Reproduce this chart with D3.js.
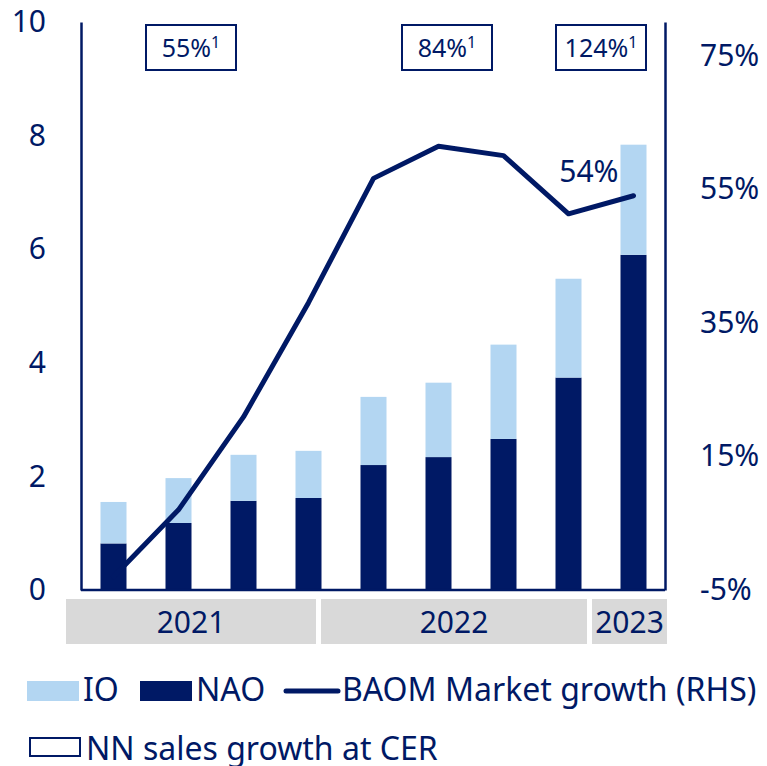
<!DOCTYPE html>
<html>
<head>
<meta charset="utf-8">
<script src="https://cdn.jsdelivr.net/npm/d3@7"></script>
<style>
  body { margin: 0; background: #fff; }
  text { font-family: "Noto Sans", sans-serif; fill: #001965; }
</style>
</head>
<body>
<div id="chart"></div>
<script>
// Data
const quarters = ["Q1 21", "Q2 21", "Q3 21", "Q4 21", "Q1 22", "Q2 22", "Q3 22", "Q4 22", "Q1 23"];
const naoValues = [0.82, 1.18, 1.57, 1.62, 2.20, 2.34, 2.66, 3.74, 5.90];
const ioValues = [0.73, 0.79, 0.81, 0.83, 1.20, 1.31, 1.66, 1.74, 1.94];
const marketGrowth = [-3.0, 7.0, 20.9, 38.0, 56.6, 61.4, 60.0, 51.3, 54.0];
const years = ["2021", "2022", "2023"];
const salesGrowth = ["55%", "84%", "124%"];
const leftTicks = [0, 2, 4, 6, 8, 10];
const rightTicks = [-5, 15, 35, 55, 75];

// Colors
const navy = "#001965";
const lightBlue = "#b3d6f2";
const grey = "#d9d9d9";

const width = 767, height = 766;
const plotLeft = 81, plotRight = 665, plotTop = 22, plotBottom = 590;

const svg = d3.select("#chart")
  .append("svg")
  .attr("width", width)
  .attr("height", height);

const x = d3.scaleBand()
  .domain(quarters)
  .range([plotLeft, plotRight + 1])
  .paddingInner(0.6)
  .paddingOuter(0.3);

const y = d3.scaleLinear().domain([0, 10]).range([plotBottom, plotTop]);
const y2 = d3.scaleLinear().domain([-5, 80]).range([plotBottom, plotTop]);

// year bands under the axis
const yearBounds = [66, 318.5, 589.5, 667];
const yearG = svg.append("g");
years.forEach(function(yr, i) {
  const x0 = yearBounds[i] + (i > 0 ? 2.5 : 0);
  const x1 = yearBounds[i + 1] - (i < years.length - 1 ? 2.5 : 0);
  yearG.append("rect")
    .attr("x", x0).attr("y", 599)
    .attr("width", x1 - x0).attr("height", 45)
    .attr("fill", grey);
  yearG.append("text")
    .attr("x", (x0 + x1) / 2).attr("y", 633)
    .attr("text-anchor", "middle")
    .style("font-size", "30px")
    .text(yr);
});

// stacked bars
const bars = quarters.map(function(q, i) {
  return { q: q, nao: naoValues[i], io: ioValues[i] };
});

svg.selectAll("rect.nao")
  .data(bars)
  .enter()
  .append("rect")
  .attr("class", "nao")
  .attr("x", d => x(d.q))
  .attr("width", x.bandwidth())
  .attr("y", d => y(d.nao))
  .attr("height", d => y(0) - y(d.nao))
  .attr("fill", navy);

svg.selectAll("rect.io")
  .data(bars)
  .enter()
  .append("rect")
  .attr("class", "io")
  .attr("x", d => x(d.q))
  .attr("width", x.bandwidth())
  .attr("y", d => y(d.nao + d.io))
  .attr("height", d => y(d.nao) - y(d.nao + d.io))
  .attr("fill", lightBlue);

// market growth line (right axis)
const line = d3.line()
  .x((d, i) => x(quarters[i]) + x.bandwidth() / 2)
  .y(d => y2(d));

svg.append("path")
  .datum(marketGrowth)
  .attr("d", line)
  .attr("fill", "none")
  .attr("stroke", navy)
  .attr("stroke-width", 5)
  .attr("stroke-linejoin", "round")
  .attr("stroke-linecap", "round");

const last = marketGrowth.length - 1;
svg.append("text")
  .attr("x", x(quarters[last]) + x.bandwidth() / 2 - 15)
  .attr("y", y2(marketGrowth[last]) - 14)
  .attr("text-anchor", "end")
  .style("font-size", "30px")
  .text(Math.round(marketGrowth[last]) + "%");

// axes
const axisL = d3.axisLeft(y).tickValues(leftTicks).tickSize(0).tickPadding(35);
const gl = svg.append("g")
  .attr("transform", "translate(" + plotLeft + ",0)")
  .call(axisL);
gl.select(".domain").attr("stroke", navy).attr("stroke-width", 2.5);
gl.selectAll("text").style("font-size", "30px").attr("fill", navy);

const axisR = d3.axisRight(y2).tickValues(rightTicks).tickSize(0).tickPadding(35)
  .tickFormat(d => d + "%");
const gr = svg.append("g")
  .attr("transform", "translate(" + plotRight + ",0)")
  .call(axisR);
gr.select(".domain").attr("stroke", navy).attr("stroke-width", 2.5);
gr.selectAll("text").style("font-size", "30px").attr("fill", navy);

svg.append("line")
  .attr("x1", plotLeft).attr("x2", plotRight)
  .attr("y1", plotBottom).attr("y2", plotBottom)
  .attr("stroke", navy).attr("stroke-width", 2.5);

// NN sales growth boxes
const boxCenters = [191, 447, 601];
salesGrowth.forEach(function(s, i) {
  const g = svg.append("g").attr("transform", "translate(" + boxCenters[i] + ",0)");
  g.append("rect")
    .attr("x", -45).attr("y", 25)
    .attr("width", 90).attr("height", 45)
    .attr("fill", "#fff")
    .attr("stroke", navy).attr("stroke-width", 2);
  const t = g.append("text")
    .attr("x", 0).attr("y", 57)
    .attr("text-anchor", "middle")
    .style("font-size", "25px");
  t.append("tspan").text(s);
  t.append("tspan").attr("dy", -9).style("font-size", "16px").text("1");
});

// legend
const lg = svg.append("g").style("font-size", "32px");
lg.append("rect").attr("x", 27).attr("y", 681).attr("width", 52).attr("height", 20).attr("fill", lightBlue);
lg.append("text").attr("x", 83).attr("y", 701).text("IO");
lg.append("rect").attr("x", 140).attr("y", 681).attr("width", 52).attr("height", 20).attr("fill", navy);
lg.append("text").attr("x", 196).attr("y", 701).text("NAO");
lg.append("line").attr("x1", 286).attr("x2", 338).attr("y1", 691).attr("y2", 691)
  .attr("stroke", navy).attr("stroke-width", 5).attr("stroke-linecap", "round");
lg.append("text").attr("x", 342).attr("y", 701).text("BAOM Market growth (RHS)");
lg.append("rect").attr("x", 30).attr("y", 738).attr("width", 50).attr("height", 18)
  .attr("fill", "#fff").attr("stroke", navy).attr("stroke-width", 2);
lg.append("text").attr("x", 86).attr("y", 760).text("NN sales growth at CER");
</script>
</body>
</html>
